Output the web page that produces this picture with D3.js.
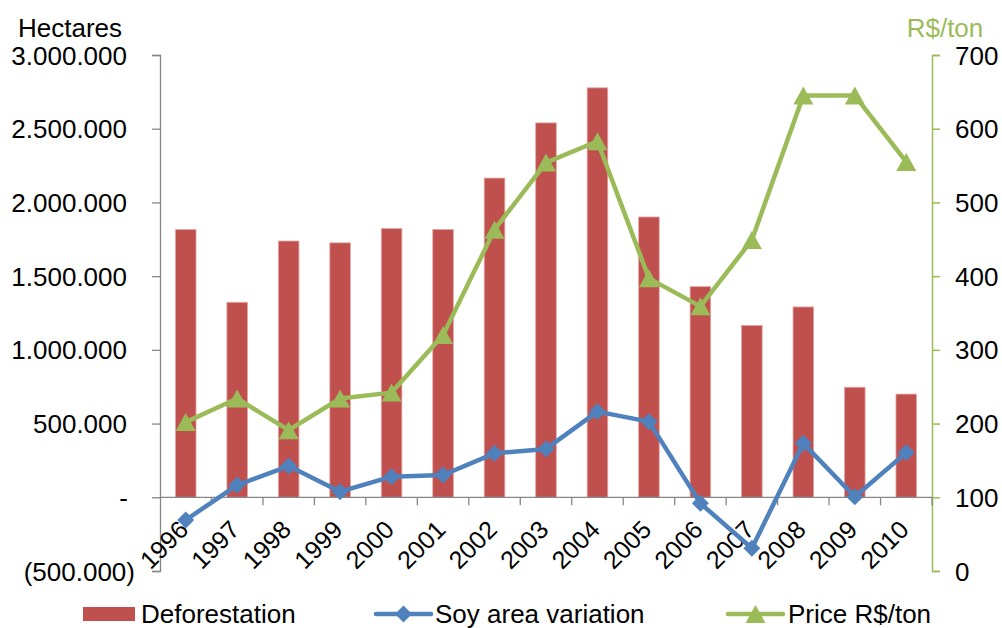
<!DOCTYPE html>
<html>
<head>
<meta charset="utf-8">
<script src="https://cdn.jsdelivr.net/npm/d3@7"></script>
<style>
  html, body { margin: 0; padding: 0; background: #fff; }
  svg { display: block; font-family: "Liberation Sans", Arial, sans-serif; }
</style>
</head>
<body>
<svg id="chart" width="1002" height="628"></svg>
<script>
// Amazon deforestation, soy area variation and soy price, 1996–2010
const years = ["1996","1997","1998","1999","2000","2001","2002","2003","2004","2005","2006","2007","2008","2009","2010"];
const deforestation = [1816100, 1322700, 1738300, 1725900, 1822600, 1816500, 2165100, 2539600, 2777200, 1901400, 1428600, 1165100, 1291100, 746400, 700000];
const soyAreaVariation = [-154000, 83000, 212000, 38000, 140000, 151000, 298000, 328000, 581000, 513000, -41000, -346000, 366000, 4000, 303000];
const priceRtons = [202, 234, 191, 234, 242, 320, 463, 554, 583, 397, 359, 449, 645, 645, 555];
const leftTicks = [-500000, 0, 500000, 1000000, 1500000, 2000000, 2500000, 3000000];
const rightTicks = [0, 100, 200, 300, 400, 500, 600, 700];
const seriesNames = ["Deforestation", "Soy area variation", "Price R$/ton"];

const RED = "#C0504D", BLUE = "#4F81BD", GREEN = "#9BBB59", GREY = "#868686";
const FONT = 26;

const svg = d3.select("#chart");
const plot = { left: 160, right: 932, top: 55, bottom: 571 };

const x = d3.scaleBand().domain(years).range([plot.left, plot.right])
  .paddingInner(0.6).paddingOuter(0.3);
const xCenter = d => x(d) + x.bandwidth() / 2;
const yL = d3.scaleLinear().domain([-500000, 3000000]).range([plot.bottom, plot.top]);
const yR = d3.scaleLinear().domain([0, 700]).range([plot.bottom, plot.top]);

// Accounting-style number format: 1.500.000, (500.000), -
const thousands = d3.format(",");
function fmtLeft(v) {
  if (v === 0) return "-";
  const s = thousands(Math.abs(v)).replace(/,/g, ".");
  return v < 0 ? "(" + s + ")" : s;
}

// Bars
svg.append("g").selectAll("rect").data(years).join("rect")
  .attr("x", d => x(d))
  .attr("width", x.bandwidth())
  .attr("y", (d, i) => yL(deforestation[i]))
  .attr("height", (d, i) => yL(0) - yL(deforestation[i]))
  .attr("fill", RED)
  .attr("stroke", "#e3a6a4")
  .attr("stroke-width", 0.8);

// Left axis
const gL = svg.append("g").attr("transform", `translate(${plot.left},0)`)
  .call(d3.axisLeft(yL).tickValues(leftTicks).tickSize(8).tickPadding(0).tickFormat(fmtLeft));
gL.select(".domain").attr("stroke", GREY).attr("stroke-width", 1.3);
gL.selectAll(".tick line").attr("stroke", GREY).attr("stroke-width", 1.3);
gL.selectAll(".tick text")
  .attr("x", d => d < 0 ? -25 : (d === 0 ? -32 : -33))
  .attr("dy", "0.35em")
  .attr("fill", "#000")
  .style("font-size", FONT + "px")
  .style("font-family", "Liberation Sans, Arial, sans-serif");

// Right axis
const gR = svg.append("g").attr("transform", `translate(${plot.right},0)`)
  .call(d3.axisRight(yR).tickValues(rightTicks).tickSize(8).tickPadding(0));
gR.select(".domain").attr("stroke", GREEN).attr("stroke-width", 1.5);
gR.selectAll(".tick line").attr("stroke", GREEN).attr("stroke-width", 1.5);
gR.selectAll(".tick text")
  .attr("x", 23)
  .attr("dy", "0.35em")
  .attr("fill", "#000")
  .style("font-size", FONT + "px")
  .style("font-family", "Liberation Sans, Arial, sans-serif");

// Category axis along zero
const y0 = yL(0);
svg.append("line")
  .attr("x1", plot.left).attr("x2", plot.right)
  .attr("y1", y0).attr("y2", y0)
  .attr("stroke", GREY).attr("stroke-width", 1.3);
const step = x.step();
svg.append("g").selectAll("line").data(years).join("line")
  .attr("x1", (d, i) => plot.left + (i + 1) * step)
  .attr("x2", (d, i) => plot.left + (i + 1) * step)
  .attr("y1", y0).attr("y2", y0 + 8)
  .attr("stroke", GREY).attr("stroke-width", 1.3);
svg.append("g").selectAll("text").data(years).join("text")
  .attr("transform", d => `translate(${xCenter(d) + 4},${y0 + 34}) rotate(-45)`)
  .attr("text-anchor", "end")
  .style("font-size", "25px")
  .attr("fill", "#000")
  .text(d => d);

// Soy area variation line (left axis)
const soyLine = d3.line().x(d => xCenter(d[0])).y(d => yL(d[1]));
const soyPts = years.map((y, i) => [y, soyAreaVariation[i]]);
svg.append("path").datum(soyPts)
  .attr("d", soyLine).attr("fill", "none")
  .attr("stroke", BLUE).attr("stroke-width", 4.5).attr("stroke-linejoin", "round");
const diamond = d3.symbol().type(d3.symbolSquare).size(144);
svg.append("g").selectAll("path").data(soyPts).join("path")
  .attr("d", diamond)
  .attr("transform", d => `translate(${xCenter(d[0])},${yL(d[1])}) rotate(45)`)
  .attr("fill", BLUE);

// Price line (right axis)
const priceLine = d3.line().x(d => xCenter(d[0])).y(d => yR(d[1]));
const pricePts = years.map((y, i) => [y, priceRtons[i]]);
svg.append("path").datum(pricePts)
  .attr("d", priceLine).attr("fill", "none")
  .attr("stroke", GREEN).attr("stroke-width", 4.5).attr("stroke-linejoin", "round");
const triPath = "M0,-9L10,9L-10,9Z";
svg.append("g").selectAll("path").data(pricePts).join("path")
  .attr("d", triPath)
  .attr("transform", d => `translate(${xCenter(d[0])},${yR(d[1])})`)
  .attr("fill", GREEN);

// Axis titles
svg.append("text").attr("x", 70).attr("y", 37).attr("text-anchor", "middle")
  .style("font-size", FONT + "px").attr("fill", "#000").text("Hectares");
svg.append("text").attr("x", 945).attr("y", 37).attr("text-anchor", "middle")
  .style("font-size", FONT + "px").attr("fill", GREEN).text("R$/ton");

// Legend
const ly = 614;
const legend = svg.append("g");
legend.append("rect").attr("x", 83).attr("y", ly - 7).attr("width", 52).attr("height", 14).attr("fill", RED);
legend.append("text").attr("x", 141).attr("y", ly).attr("dy", "0.35em")
  .style("font-size", FONT + "px").text(seriesNames[0]);

legend.append("line").attr("x1", 376).attr("x2", 431).attr("y1", ly).attr("y2", ly)
  .attr("stroke", BLUE).attr("stroke-width", 4.5).attr("stroke-linecap", "round");
legend.append("path").attr("d", diamond)
  .attr("transform", `translate(403.5,${ly}) rotate(45)`).attr("fill", BLUE);
legend.append("text").attr("x", 435).attr("y", ly).attr("dy", "0.35em")
  .style("font-size", FONT + "px").text(seriesNames[1]);

legend.append("line").attr("x1", 728).attr("x2", 783).attr("y1", ly).attr("y2", ly)
  .attr("stroke", GREEN).attr("stroke-width", 4.5).attr("stroke-linecap", "round");
legend.append("path").attr("d", triPath)
  .attr("transform", `translate(755.5,${ly})`).attr("fill", GREEN);
legend.append("text").attr("x", 788).attr("y", ly).attr("dy", "0.35em")
  .style("font-size", FONT + "px").text(seriesNames[2]);
</script>
</body>
</html>
